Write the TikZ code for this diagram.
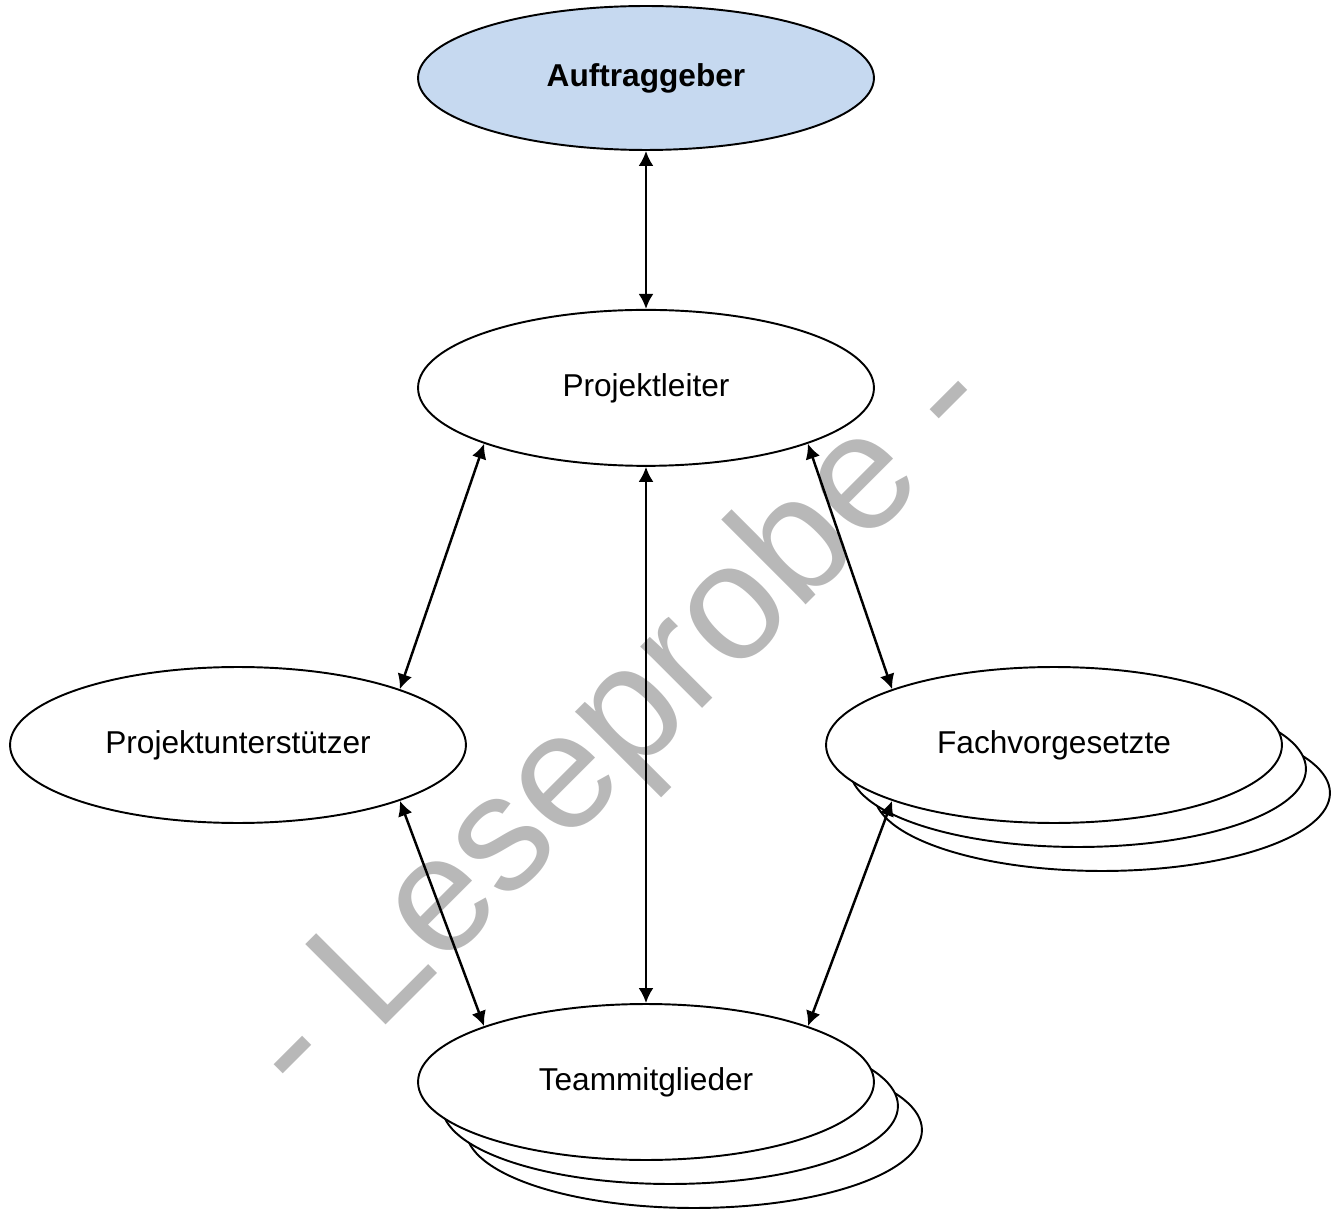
\documentclass[tikz,border=0pt]{standalone}
\usepackage{fontspec}
\setmainfont{Liberation Sans}
\usetikzlibrary{shapes.geometric, arrows.meta, positioning}

\definecolor{clientblue}{RGB}{198,217,240}

\begin{document}
\begin{tikzpicture}[
    x=0.02cm, y=-0.02cm,
    role/.style={
        ellipse,
        draw=black,
        fill=white,
        line width=1.1pt,
        minimum width=9.12cm,
        minimum height=3.12cm,
        inner sep=0pt,
        font=\fontsize{18}{22}\selectfont
    },
    client/.style={
        role,
        fill=clientblue,
        minimum height=2.88cm,
        font=\fontsize{18}{22}\selectfont\bfseries
    },
    link/.style={
        {Latex[length=0.3cm, width=0.3cm]}-{Latex[length=0.3cm, width=0.3cm]},
        line width=1.4pt
    },
    watermark/.style={
        font=\fontsize{94}{110}\selectfont,
        text=black!28,
        rotate=45,
        inner sep=0pt
    }
]
\useasboundingbox (0,0) rectangle (1343,1209);

% watermark behind everything
\node[watermark] (stamp) at (622,728) {- Leseprobe -};

% Auftraggeber and Projektleiter
\node[client] (auftrag) at (646,78) {Auftraggeber};
\node[role, below=3.16cm of auftrag] (leiter) {Projektleiter};

% side roles
\node[role] (helfer) at (238,745) {Projektunterstützer};
\node[role] (fach-b2) at (1102,793) {};
\node[role] (fach-b1) at (1078,769) {};
\node[role] (fach) at (1054,745) {Fachvorgesetzte};

% team stack
\node[role] (team-b2) at (694,1130) {};
\node[role] (team-b1) at (670,1106) {};
\node[role] (team) at (646,1082) {Teammitglieder};

% connections
\draw[link] (auftrag) -- (leiter);
\draw[link] (leiter) -- (team);
\draw[link] (leiter.south west) -- (helfer.north east);
\draw[link] (leiter.south east) -- (fach.north west);
\draw[link] (helfer.south east) -- (team.north west);
\draw[link] (fach.south west) -- (team.north east);

\end{tikzpicture}
\end{document}
